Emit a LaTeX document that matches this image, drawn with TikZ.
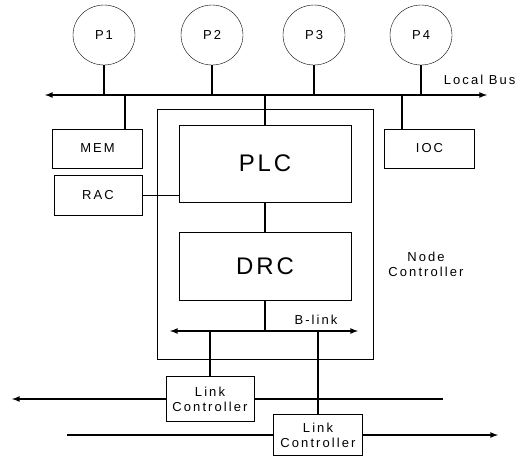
\documentclass[tikz,border=0pt]{standalone}
\usepackage{fontspec}
\setmainfont{Liberation Sans}
\usetikzlibrary{arrows,shapes.geometric}

\newcommand{\smalllbl}{\fontsize{13}{15}\selectfont\addfontfeature{LetterSpace=16}}
\newcommand{\biglbl}{\fontsize{24}{28}\selectfont\addfontfeature{LetterSpace=12}}

\begin{document}
\begin{tikzpicture}[x=1pt,y=-1pt,
    proc/.style={draw,ellipse,minimum width=62pt,minimum height=60pt,inner sep=0pt,font=\smalllbl},
    unit/.style={draw,minimum width=90pt,minimum height=39pt,inner sep=0pt,font=\smalllbl},
    ctrl/.style={draw,minimum width=172pt,inner sep=0pt,font=\biglbl},
    bus/.style={line width=1.6pt},
    wire/.style={line width=1.2pt}]
  \useasboundingbox (0,0) rectangle (521,456);

  % processors on the local bus
  \node[proc] (p1) at (104,35) {P1};
  \node[proc] (p2) at (212,35) {P2};
  \node[proc] (p3) at (314,35) {P3};
  \node[proc] (p4) at (421,35) {P4};
  \coordinate (busL) at (45,95);
  \coordinate (busR) at (487,95);
  \draw[bus,latex-latex] (busL) -- (busR);
  \node[anchor=east,font=\smalllbl] (localbus) at (519,80) {Local Bus};
  \foreach \p in {p1,p2,p3,p4}
    \draw[wire] (\p) -- (\p |- busL);

  % node controller
  \node[draw,minimum width=216pt,minimum height=250pt] (nc) at (265,234) {};
  \node[ctrl,minimum height=77pt] (plc) at (265,163.5) {PLC};
  \node[ctrl,minimum height=68pt] (drc) at (265,266) {DRC};
  \node[font=\smalllbl,align=center] (nclabel) at (426,264) {Node\\Controller};

  \node[unit] (mem) at (97.5,148.5) {MEM};
  \node[unit] (ioc) at (429.5,148.5) {IOC};
  \node[unit,minimum width=88pt,minimum height=40pt] (rac) at (98,195) {RAC};

  \draw[wire] ([xshift=27.5pt]mem.north) -- ([xshift=27.5pt]mem.north |- busL);
  \draw[wire] ([xshift=-27.5pt]ioc.north) -- ([xshift=-27.5pt]ioc.north |- busL);
  \draw[wire] (plc) -- (plc |- busL);
  \draw (rac.east) -- (rac.east -| plc.west);
  \draw[wire] (plc) -- (drc);

  % B-link
  \coordinate (blL) at (170,331);
  \coordinate (blR) at (358,331);
  \draw[bus,latex-latex] (blL) -- (blR);
  \draw[wire] (drc) -- (drc |- blL);
  \node[font=\smalllbl] (blink) at (316,320) {B-link};

  % link controllers
  \node[unit,minimum width=88pt,minimum height=45pt,align=center] (lc1) at (210,399) {Link\\Controller};
  \node[unit,minimum width=89pt,minimum height=41pt,align=center] (lc2) at (318,435) {Link\\Controller};
  \draw[wire] (lc1) -- (lc1 |- blL);
  \draw[wire] (lc2) -- (lc2 |- blL);

  \coordinate (l1W) at (12,399);
  \coordinate (l1E) at (443,399);
  \coordinate (l2W) at (67,435);
  \coordinate (l2E) at (498,435);
  \draw[bus,-latex] (lc1.west) -- (l1W);
  \draw[bus] (lc1.east) -- (l1E);
  \draw[bus] (lc2.west) -- (l2W);
  \draw[bus,-latex] (lc2.east) -- (l2E);
\end{tikzpicture}
\end{document}
